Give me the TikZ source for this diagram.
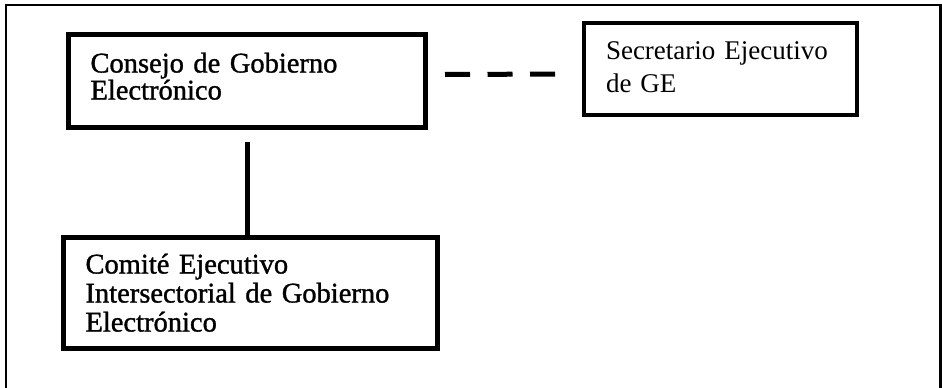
\documentclass[tikz,border=0pt]{standalone}
\usepackage{fontspec}
\setmainfont{Liberation Serif}
\newfontfamily\semibf[FakeBold=1.2]{Liberation Serif}
\usetikzlibrary{calc}
\begin{document}
\begin{tikzpicture}[x=1pt,y=-1pt,
  orgbox/.style={draw=black, line width=5pt, rectangle, anchor=north west,
    align=left, inner xsep=22.5pt, inner ysep=0pt},
  thinbox/.style={orgbox, line width=4pt, inner xsep=22pt},
  link/.style={draw=black, line width=5pt}]
\useasboundingbox (0,0) rectangle (942,388);
\fill[white] (0,0) rectangle (942,388);
\draw[line width=2.4pt] (6.2,5) rectangle (940.5,400);
\node[orgbox, minimum width=357pt, minimum height=93pt, text width=312pt,
  text height=38.5pt, text depth=54.5pt,
  font=\semibf\fontsize{28.5}{27}\selectfont] (b1) at (65.5,31.5)
  {Consejo de Gobierno\\Electrónico};
\node[thinbox, minimum width=273pt, minimum height=92pt, text width=229pt,
  text height=36pt, text depth=56pt,
  font=\fontsize{27}{33}\selectfont] (b2) at (582,21)
  {Secretario Ejecutivo\\de GE};
\node[orgbox, minimum width=374pt, minimum height=111pt, text width=329pt,
  text height=36.5pt, text depth=74.5pt,
  font=\semibf\fontsize{28.5}{29}\selectfont] (b3) at (60.5,234.5)
  {Comité Ejecutivo\\Intersectorial de Gobierno\\Electrónico};
\draw[link] ([xshift=1pt,yshift=-12.5pt]b1.south) -- ([xshift=-2.5pt]b3.north);
\draw[link, dash pattern=on 25pt off 17.5pt] ([xshift=17.5pt,yshift=6pt]b1.east) -- ([xshift=-14pt,yshift=-5pt]b2.west);
\end{tikzpicture}
\end{document}
